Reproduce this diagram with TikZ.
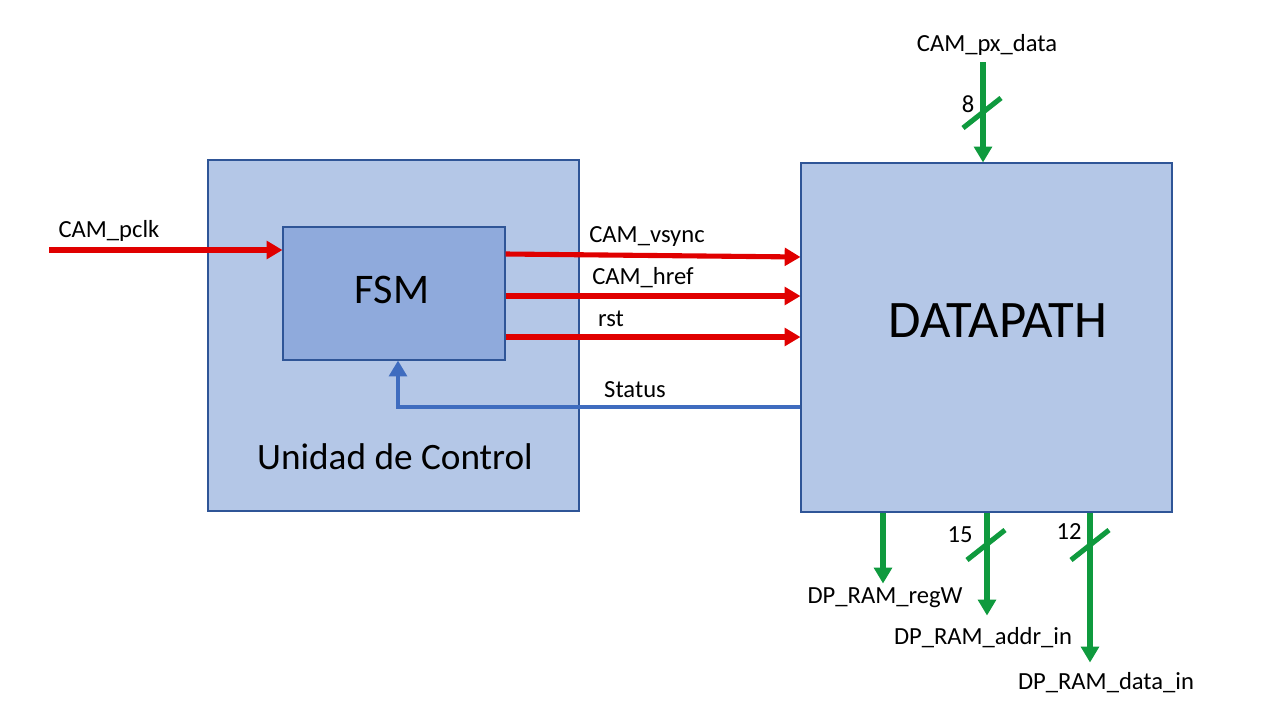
\documentclass[tikz,border=0pt]{standalone}
\usepackage{fontspec}
\setmainfont{Carlito}
\usetikzlibrary{arrows.meta}

\definecolor{boxfill}{HTML}{B4C7E7}
\definecolor{fsmfill}{HTML}{8FAADC}
\definecolor{boxline}{HTML}{2F5597}
\definecolor{sigred}{HTML}{E00000}
\definecolor{busgreen}{HTML}{0F9A3E}
\definecolor{statblue}{HTML}{3F6CBF}

\tikzset{
    block/.style={draw=boxline, fill=boxfill, line width=0.6pt, inner sep=0pt},
    redsig/.style={draw=sigred, line width=2.9pt, -{Triangle[length=9pt,width=10pt]}},
    greensig/.style={draw=busgreen, line width=2.9pt, -{Triangle[length=9pt,width=10pt]}},
    bluesig/.style={draw=statblue, line width=2.6pt, -{Triangle[length=9pt,width=10pt]}},
    slash/.style={draw=busgreen, line width=2.9pt},
    lbl/.style={font=\fontsize{14}{16}\selectfont, inner sep=0pt}
}

\begin{document}
\begin{tikzpicture}[x=0.02cm, y=-0.02cm]

    \useasboundingbox (0,0) rectangle (1280,720);

    % Step 1: Unidad de Control and FSM
    \node[block, minimum width=371*0.02cm, minimum height=351*0.02cm] (uc) at (393.5,335.5) {};
    \node[font=\fontsize{21.2}{24}\selectfont] (uclbl) at (395,457) {Unidad de Control};
    \node[block, fill=fsmfill, minimum width=222*0.02cm, minimum height=133*0.02cm] (fsm) at (394,293.5) {};
    \node[font=\fontsize{24}{28}\selectfont] (fsmlbl) at (392,290) {FSM};

    % Step 2: Datapath
    \node[block, minimum width=371*0.02cm, minimum height=349*0.02cm] (dp) at (986.5,337.5) {};
    \node[font=\fontsize{30}{34}\selectfont] (dplbl) at (998,321) {DATAPATH};

    % Control signals (red)
    \coordinate (pclk) at (49,250);
    \draw[redsig] (pclk) -- (pclk -| fsm.west);
    \node[lbl] (pclklbl) at (109,231) {CAM\_pclk};

    \coordinate (vs0) at (fsm.east |- 0,254);
    \coordinate (vs1) at (dp.west |- 0,257);
    \draw[redsig] (vs0) -- (vs1);
    \node[lbl] (vslbl) at (647,236) {CAM\_vsync};

    \coordinate (hr0) at (fsm.east |- 0,296);
    \draw[redsig] (hr0) -- (hr0 -| dp.west);
    \node[lbl] (hrlbl) at (643,278) {CAM\_href};

    \coordinate (rs0) at (fsm.east |- 0,337);
    \draw[redsig] (rs0) -- (rs0 -| dp.west);
    \node[lbl] (rslbl) at (611,319) {rst};

    % Status back to the FSM (blue)
    \coordinate (st0) at (dp.west |- 0,407);
    \coordinate (st1) at (fsm.south -| 398,0);
    \draw[bluesig] (st0) -| (st1);
    \node[lbl] (stlbl) at (635,390) {Status};

    % Input bus
    \node[lbl] (pxlbl) at (987,45) {CAM\_px\_data};
    \coordinate (px0) at (983,62);
    \draw[greensig] (px0) -- (px0 |- dp.north);
    \coordinate (pxs) at (982,113);
    \draw[slash] (pxs) ++(-19,15) -- ++(38,-30);
    \node[lbl] (pxw) at (968,104) {8};

    % Output buses
    \coordinate (rw0) at (dp.south -| 883,0);
    \draw[greensig] (rw0) -- ++(0,71);
    \node[lbl] (rwlbl) at (885,598) {DP\_RAM\_regW};

    \coordinate (ad0) at (dp.south -| 987,0);
    \draw[greensig] (ad0) -- ++(0,103);
    \coordinate (ads) at (986,545);
    \draw[slash] (ads) ++(-19,15) -- ++(38,-30);
    \node[lbl] (adw) at (960,535) {15};
    \node[lbl] (adlbl) at (983,638) {DP\_RAM\_addr\_in};

    \coordinate (da0) at (dp.south -| 1090,0);
    \draw[greensig] (da0) -- ++(0,150);
    \coordinate (das) at (1090,545);
    \draw[slash] (das) ++(-19,15) -- ++(38,-30);
    \node[lbl] (daw) at (1069,532) {12};
    \node[lbl] (dalbl) at (1106,683) {DP\_RAM\_data\_in};

\end{tikzpicture}
\end{document}
